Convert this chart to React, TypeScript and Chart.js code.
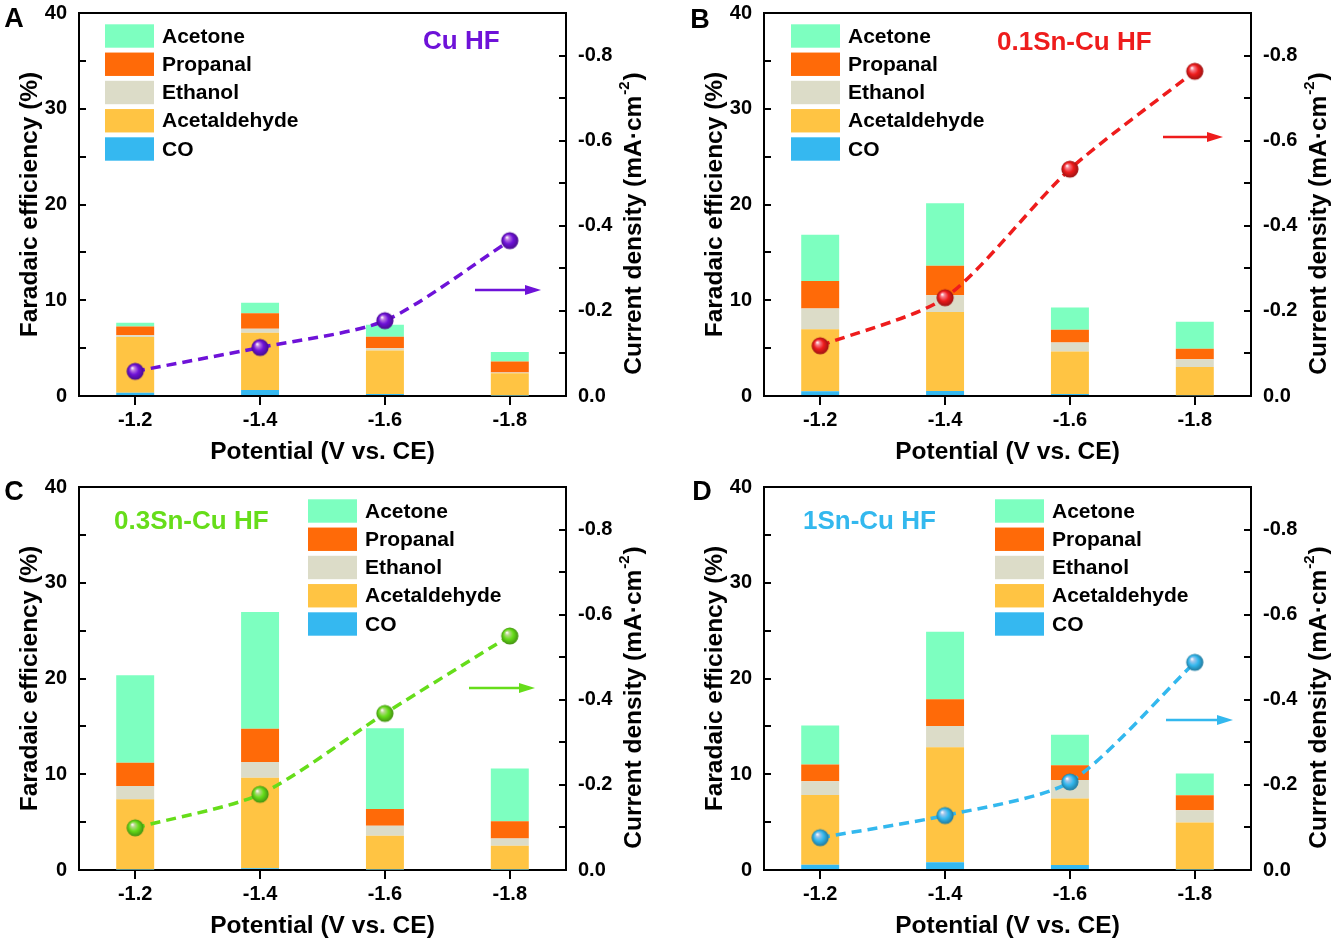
import React, { useEffect, useRef } from "react";
import { Chart, registerables } from "chart.js";

Chart.register(...registerables);

// ---------------- data ----------------
const potentials = [-1.2, -1.4, -1.6, -1.8];
const potentialLabels = ["-1.2", "-1.4", "-1.6", "-1.8"];
const productNames = ["CO", "Acetaldehyde", "Ethanol", "Propanal", "Acetone"];
const productColors = ["#35B8F0", "#FFC443", "#DCDCC8", "#FF6A08", "#7DFFC0"];

// Panel A: Cu HF
const coA = [0.35, 0.63, 0.2, 0.05];
const acetaldehydeA = [5.8, 5.97, 4.55, 2.33];
const ethanolA = [0.2, 0.43, 0.25, 0.07];
const propanalA = [0.9, 1.6, 1.2, 1.15];
const acetoneA = [0.4, 1.1, 1.25, 1.0];
const currentA = [-0.058, -0.114, -0.177, -0.365];

// Panel B: 0.1Sn-Cu HF
const coB = [0.5, 0.52, 0.2, 0.07];
const acetaldehydeB = [6.46, 8.26, 4.45, 2.97];
const ethanolB = [2.17, 1.74, 0.94, 0.81];
const propanalB = [2.87, 3.08, 1.33, 1.08];
const acetoneB = [4.85, 6.54, 2.31, 2.83];
const currentB = [-0.118, -0.231, -0.533, -0.763];

// Panel C: 0.3Sn-Cu HF
const coC = [0.05, 0.17, 0.05, 0.05];
const acetaldehydeC = [7.34, 9.47, 3.52, 2.48];
const ethanolC = [1.39, 1.63, 1.04, 0.77];
const propanalC = [2.42, 3.47, 1.77, 1.8];
const acetoneC = [9.13, 12.21, 8.43, 5.51];
const currentC = [-0.099, -0.178, -0.368, -0.55];

// Panel D: 1Sn-Cu HF
const coD = [0.55, 0.8, 0.52, 0.05];
const acetaldehydeD = [7.29, 12.03, 6.94, 4.91];
const ethanolD = [1.42, 2.22, 1.94, 1.28];
const propanalD = [1.77, 2.78, 1.53, 1.56];
const acetoneD = [4.06, 7.04, 3.19, 2.29];
const currentD = [-0.076, -0.128, -0.207, -0.488];

const panelLetters = ["A", "B", "C", "D"];
const sampleNames = ["Cu HF", "0.1Sn-Cu HF", "0.3Sn-Cu HF", "1Sn-Cu HF"];
const sampleColors = ["#6E12D8", "#EE1C1C", "#66DD1A", "#33B8EE"];
const panelSeries = [
  [coA, acetaldehydeA, ethanolA, propanalA, acetoneA],
  [coB, acetaldehydeB, ethanolB, propanalB, acetoneB],
  [coC, acetaldehydeC, ethanolC, propanalC, acetoneC],
  [coD, acetaldehydeD, ethanolD, propanalD, acetoneD],
];
const panelCurrents = [currentA, currentB, currentC, currentD];

// ---------------- layout / style ----------------
const FONT = "'Liberation Sans', Arial, Helvetica, sans-serif";
const CANVAS_W = 647;
const CANVAS_H = 469;

const layouts = [
  { left: 0, top: 0, letter: [14, 20], legend: [26, 11.3], label: [344, 29], arrow: [396, 462, 277] },
  { left: 685, top: 0, letter: [15, 21], legend: [27, 11.3], label: [233, 29.5], arrow: [399, 459, 124] },
  { left: 0, top: 474, letter: [14, 19], legend: [229, 12.3], label: [35, 34.7], arrow: [390, 456, 201] },
  { left: 685, top: 474, letter: [17, 19], legend: [231, 12.3], label: [39, 34.7], arrow: [402, 469, 233] },
];

function hasFont(name: string) {
  const c = document.createElement("canvas").getContext("2d")!;
  const s = "Potential (V vs. CE) 0123";
  c.font = "bold 40px monospace";
  const a = c.measureText(s).width;
  c.font = `bold 40px '${name}', monospace`;
  const b = c.measureText(s).width;
  return Math.abs(a - b) > 0.5;
}

function axisFonts() {
  if (hasFont("Liberation Sans Narrow")) {
    const fam = "'Liberation Sans Narrow', 'Liberation Sans', Arial, sans-serif";
    return { fam, tick: 22, title: 28.5, sup: 17 };
  }
  return { fam: FONT, tick: 20, title: 24.5, sup: 15 };
}

function hexToRgb(h: string) {
  const n = parseInt(h.slice(1), 16);
  return [(n >> 16) & 255, (n >> 8) & 255, n & 255];
}
function mix(h: string, t: number[], f: number) {
  const c = hexToRgb(h);
  const r = c.map((v, i) => Math.round(v + (t[i] - v) * f));
  return `rgb(${r[0]},${r[1]},${r[2]})`;
}

function makeSphere(color: string) {
  const size = 20;
  const c = document.createElement("canvas");
  c.width = size;
  c.height = size;
  const ctx = c.getContext("2d")!;
  const r = 8.6;
  const g = ctx.createRadialGradient(size / 2 - 3, size / 2 - 3.5, 0.3, size / 2, size / 2, r);
  g.addColorStop(0, "#ffffff");
  g.addColorStop(0.2, mix(color, [255, 210, 235], 0.55));
  g.addColorStop(0.55, color);
  g.addColorStop(1, mix(color, [0, 0, 0], 0.35));
  ctx.beginPath();
  ctx.arc(size / 2, size / 2, r, 0, Math.PI * 2);
  ctx.fillStyle = g;
  ctx.fill();
  return c;
}

const decorPlugin = {
  id: "decor",
  afterDraw(chart: any, _args: any, opts: any) {
    const { ctx, chartArea: ca } = chart;
    ctx.save();
    // top frame line
    ctx.strokeStyle = "#000";
    ctx.lineWidth = 2;
    ctx.beginPath();
    ctx.moveTo(ca.left - 1, ca.top);
    ctx.lineTo(ca.right + 1, ca.top);
    ctx.stroke();

    // panel letter
    ctx.fillStyle = "#000";
    ctx.font = `bold 27px ${FONT}`;
    ctx.textAlign = "center";
    ctx.textBaseline = "middle";
    ctx.fillText(opts.letter, opts.letterPos[0], opts.letterPos[1]);

    // sample label
    ctx.fillStyle = opts.color;
    ctx.font = `bold 26px ${FONT}`;
    ctx.textAlign = "left";
    ctx.fillText(opts.name, ca.left + opts.labelPos[0], ca.top + opts.labelPos[1]);

    // arrow
    const [ax0, ax1, ay] = opts.arrow;
    const y = ca.top + ay;
    const x0 = ca.left + ax0;
    const x1 = ca.left + ax1;
    ctx.strokeStyle = opts.color;
    ctx.lineWidth = 2.4;
    ctx.beginPath();
    ctx.moveTo(x0, y);
    ctx.lineTo(x1 - 12, y);
    ctx.stroke();
    ctx.beginPath();
    ctx.moveTo(x1, y);
    ctx.lineTo(x1 - 16, y - 5);
    ctx.lineTo(x1 - 16, y + 5);
    ctx.closePath();
    ctx.fillStyle = opts.color;
    ctx.fill();

    // legend
    const [lx, ly] = opts.legendPos;
    ctx.font = `bold 21px ${FONT}`;
    ctx.textBaseline = "middle";
    for (let i = productNames.length - 1, row = 0; i >= 0; i--, row++) {
      const sy = ca.top + ly + row * 28.25;
      ctx.fillStyle = productColors[i];
      ctx.fillRect(ca.left + lx, sy, 49, 23.4);
      ctx.fillStyle = "#000";
      ctx.fillText(productNames[i], ca.left + lx + 57, sy + 12.5);
    }

    // right axis title (reads bottom to top)
    const af = opts.axisFont;
    const mainTxt = "Current density (mA·cm";
    ctx.font = `bold ${af.title}px ${af.fam}`;
    const w1 = ctx.measureText(mainTxt).width;
    const w3 = ctx.measureText(")").width;
    ctx.font = `bold ${af.sup}px ${af.fam}`;
    const w2 = ctx.measureText("-2").width;
    const total = w1 + w2 + w3 + 2;
    ctx.translate(ca.right + 66, (ca.top + ca.bottom) / 2 + 19);
    ctx.rotate(-Math.PI / 2);
    ctx.fillStyle = "#000";
    ctx.textBaseline = "alphabetic";
    ctx.textAlign = "left";
    const base = af.title * 0.36;
    let x = -total / 2;
    ctx.font = `bold ${af.title}px ${af.fam}`;
    ctx.fillText(mainTxt, x, base);
    x += w1 + 1;
    ctx.font = `bold ${af.sup}px ${af.fam}`;
    ctx.fillText("-2", x, base - af.title * 0.48);
    x += w2 + 1;
    ctx.font = `bold ${af.title}px ${af.fam}`;
    ctx.fillText(")", x, base);
    ctx.restore();
  },
};

function buildConfig(p: number): any {
  const af = axisFonts();
  const tickFont = { family: af.fam, size: af.tick, weight: "bold" as const };
  const titleFont = { family: af.fam, size: af.title, weight: "bold" as const };
  const L = layouts[p];
  const barSets = panelSeries[p].map((vals, i) => ({
    type: "bar",
    label: productNames[i],
    data: potentials.map((x, j) => ({ x, y: vals[j] })),
    backgroundColor: productColors[i],
    borderWidth: 0,
    stack: "fe",
    yAxisID: "y",
    xAxisID: "x",
    barPercentage: 0.304,
    categoryPercentage: 1,
    order: 2,
  }));
  const lineSet = {
    type: "line",
    label: "Current density",
    data: potentials.map((x, j) => ({ x, y: panelCurrents[p][j] })),
    yAxisID: "y2",
    xAxisID: "x",
    borderColor: sampleColors[p],
    backgroundColor: sampleColors[p],
    borderWidth: 3.5,
    borderDash: [10, 6],
    tension: 0.25,
    fill: false,
    pointStyle: makeSphere(sampleColors[p]),
    pointRadius: 9,
    clip: false,
    order: 0,
  };
  const xTitleLH = af.title * 1.2;
  const yTitleLH = af.title * 1.2;
  return {
    type: "bar",
    data: { datasets: [...barSets, lineSet] },
    plugins: [decorPlugin],
    options: {
      responsive: false,
      animation: false,
      devicePixelRatio: 1,
      layout: { padding: { top: 13, left: 0, right: 0, bottom: 0 } },
      plugins: {
        legend: { display: false },
        tooltip: { enabled: false },
        decor: {
          letter: panelLetters[p],
          letterPos: L.letter,
          name: sampleNames[p],
          color: sampleColors[p],
          labelPos: L.label,
          arrow: L.arrow,
          legendPos: L.legend,
          axisFont: af,
        },
      },
      scales: {
        x: {
          type: "linear",
          position: "bottom",
          min: -1.89,
          max: -1.11,
          reverse: true,
          offset: false,
          afterBuildTicks: (s: any) => {
            s.ticks = potentials.map((v) => ({ value: v }));
          },
          afterFit: (s: any) => {
            s.height = 73;
            s.paddingLeft = 0;
            s.paddingRight = 0;
          },
          ticks: {
            font: tickFont,
            color: "#000",
            padding: 24.5 - 9 - (af.tick * 1.2) / 2,
            maxRotation: 0,
            autoSkip: false,
            callback: (v: number) => {
              const i = potentials.findIndex((q) => Math.abs(q - v) < 1e-6);
              return i >= 0 ? potentialLabels[i] : "";
            },
          },
          grid: {
            display: true,
            offset: false,
            drawOnChartArea: false,
            drawTicks: true,
            tickLength: 9,
            color: "#000",
            lineWidth: 2,
          },
          border: { display: true, color: "#000", width: 2 },
          title: {
            display: true,
            text: "Potential (V vs. CE)",
            font: titleFont,
            color: "#000",
            padding: { top: 0, bottom: 17 - xTitleLH / 2 },
          },
        },
        y: {
          type: "linear",
          position: "left",
          min: 0,
          max: 40,
          stacked: true,
          afterFit: (s: any) => {
            s.width = 79;
            s.paddingTop = 0;
            s.paddingBottom = 0;
          },
          ticks: {
            stepSize: 5,
            font: tickFont,
            color: "#000",
            padding: 19,
            callback: (v: number) => (Math.round(v) % 10 === 0 ? String(Math.round(v)) : ""),
          },
          grid: {
            display: true,
            drawOnChartArea: false,
            drawTicks: true,
            tickLength: -7,
            color: "#000",
            lineWidth: 2,
          },
          border: { display: true, color: "#000", width: 2 },
          title: {
            display: true,
            text: "Faradaic efficiency (%)",
            font: titleFont,
            color: "#000",
            padding: { top: 30 - yTitleLH / 2, bottom: 0 },
          },
        },
        y2: {
          type: "linear",
          position: "right",
          min: -0.9,
          max: 0,
          reverse: true,
          afterFit: (s: any) => {
            s.width = CANVAS_W - 566;
            s.paddingTop = 0;
            s.paddingBottom = 0;
          },
          ticks: {
            stepSize: 0.1,
            font: tickFont,
            color: "#000",
            padding: 19,
            callback: (v: number) => {
              const k = Math.round(v * 10);
              if (k % 2 !== 0) return "";
              return k === 0 ? "0.0" : (k / 10).toFixed(1);
            },
          },
          grid: {
            display: true,
            drawOnChartArea: false,
            drawTicks: true,
            tickLength: -7,
            color: "#000",
            lineWidth: 2,
          },
          border: { display: true, color: "#000", width: 2 },
        },
      },
    },
  };
}

export default function App() {
  const refs = [
    useRef<HTMLCanvasElement>(null),
    useRef<HTMLCanvasElement>(null),
    useRef<HTMLCanvasElement>(null),
    useRef<HTMLCanvasElement>(null),
  ];
  useEffect(() => {
    Chart.defaults.font.family = FONT;
    const charts = refs.map((r, p) => new Chart(r.current!, buildConfig(p)));
    return () => charts.forEach((c) => c.destroy());
  }, []);
  return (
    <div style={{ position: "absolute", left: 0, top: 0, width: 1332, height: 943, background: "#fff", overflow: "hidden" }}>
      {layouts.map((L, p) => (
        <canvas
          key={p}
          ref={refs[p]}
          width={CANVAS_W}
          height={CANVAS_H}
          style={{ position: "absolute", left: L.left, top: L.top, width: CANVAS_W, height: CANVAS_H }}
        />
      ))}
    </div>
  );
}
